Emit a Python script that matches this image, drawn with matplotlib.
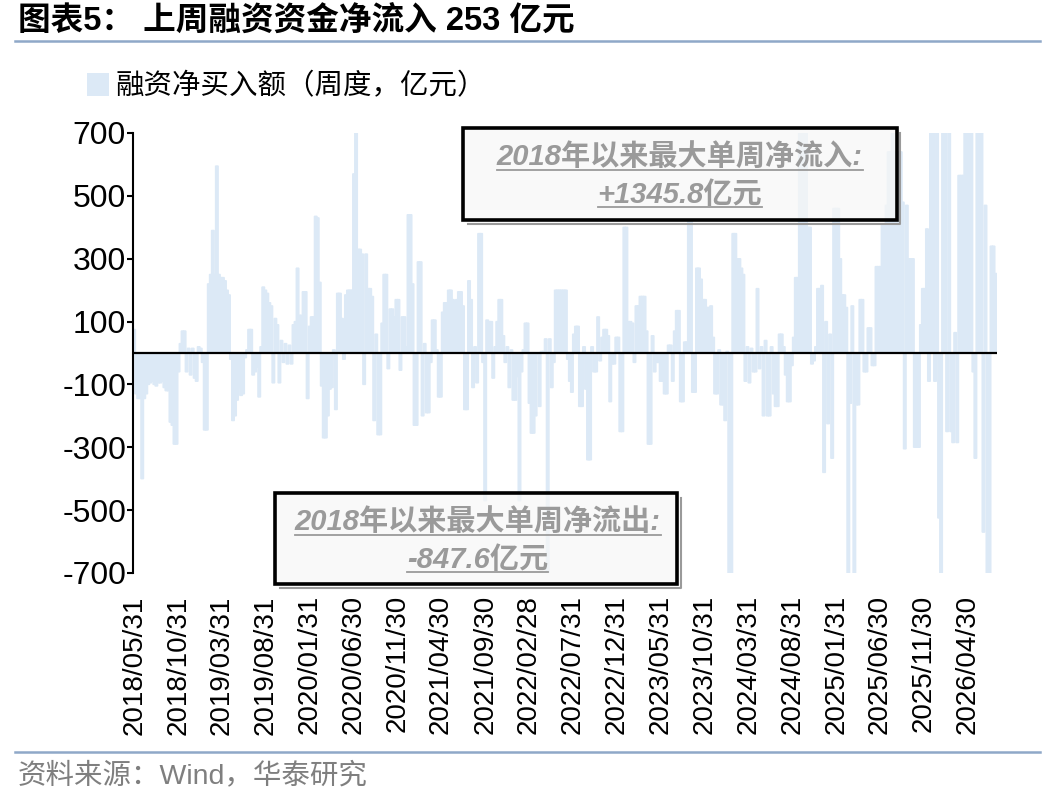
import matplotlib
matplotlib.use("Agg")
import matplotlib.pyplot as plt
import pandas as pd
from matplotlib.patches import Patch, Rectangle
from matplotlib.lines import Line2D

plt.rcParams['font.family'] = ['Liberation Sans', 'Noto Sans CJK SC']

# weekly net margin buying, 100m CNY
net_buy = [
    75, -130, -145, -145, -400, -145, -130, -100, -95, -90,
    -100, -105, -95, -95, -90, -110, -120, -120, -220, -230,
    -290, -290, -60, 30, 70, 70, -60, 15, -70, 15,
    -80, -90, 20, 15, -30, -245, -245, 220, 250, 390,
    250, 595, 250, 240, 240, 230, 200, 185, -20, -215,
    -200, -150, -110, -135, -130, -15, 10, 75, 75, -70,
    -60, -45, -140, 20, 210, 200, 190, 160, 150, -95,
    110, 90, -95, 40, -30, 30, -35, 25, -35, 90,
    100, 270, 120, 120, 195, 195, -145, 85, 115, 115,
    435, 430, 225, -105, -270, -270, -200, -115, -110, 10,
    -180, 190, 190, 110, -20, 185, 200, 200, 200, 570,
    720, 330, 330, 315, -100, 315, 205, 205, 180, -215,
    60, -260, -260, 95, 250, 250, -50, 140, 140, 115,
    170, 170, -55, 115, 115, 20, 440, 440, 220, -230,
    -230, 290, 290, -200, 30, -190, -190, -30, 105, 105,
    10, -140, -140, 130, 160, 160, 200, 200, 170, 165,
    170, 195, 195, 150, -180, -180, 230, 170, -110, 20,
    -95, 380, 380, -30, -470, 105, 100, 100, -80, 20,
    100, 170, 170, 55, -30, 20, -110, 10, -150, -150,
    -75, -470, -60, 10, 95, 95, -160, -255, -255, -200,
    -5, -170, 5, 5, 45, -710, 45, -110, -30, 200,
    200, 200, 200, 200, 200, -20, -90, -125, 60, 85,
    85, -170, -170, 20, -115, -340, -340, 20, -60, -60,
    115, -25, 50, 75, 75, 55, -155, -35, -35, 50,
    50, -250, -250, 400, 400, 100, 100, 95, -30, 150,
    150, 180, 180, 180, 70, -290, -290, 55, -60, -30,
    -30, -90, -90, -130, -130, 25, 25, -90, 70, 135,
    135, -155, -155, 35, 35, 420, 420, -125, -125, 270,
    270, 235, 170, 170, 145, 145, 150, 50, -130, -130,
    10, -165, -165, -215, 5, -847.6, -720, 380, 380, 300,
    300, 270, 250, -90, 20, -95, 15, -60, -60, 205,
    -50, 20, -200, 40, -200, -200, 20, -130, -170, -170,
    60, 60, 20, -70, -155, -155, -40, 50, 240, 240,
    720, 630, 1345.8, 720, 400, 400, -35, -25, 20, 205,
    205, 215, -380, 100, -225, 60, -335, 460, 460, 460,
    300, 185, 185, 145, -720, -160, 150, -720, -165, -165,
    170, 170, -60, -60, 80, 80, -40, -40, 275, 275,
    275, 410, 410, 470, 640, 640, 720, 640, 640, 640,
    640, 480, -305, 470, 300, 300, 300, -300, -300, -300,
    90, 205, 205, 395, -90, 720, 720, -90, 720, -525,
    -720, 720, 720, -250, 720, -250, -285, 65, -285, 565,
    565, 565, 720, 720, 720, 720, -60, -335, 720, 720,
    720, -570, 470, -720, -720, 340, 340, 253,
]

dates = pd.date_range('2018-05-31', periods=len(net_buy), freq='7D')

tick_labels = [
    '2018/05/31', '2018/10/31', '2019/03/31', '2019/08/31', '2020/01/31',
    '2020/06/30', '2020/11/30', '2021/04/30', '2021/09/30', '2022/02/28',
    '2022/07/31', '2022/12/31', '2023/05/31', '2023/10/31', '2024/03/31',
    '2024/08/31', '2025/01/31', '2025/06/30', '2025/11/30', '2026/04/30',
]
tick_dates = pd.to_datetime(tick_labels, format='%Y/%m/%d')

y_ticks = [-700, -500, -300, -100, 100, 300, 500, 700]

bar_color = '#DCE9F6'
rule_color = '#8FA8C8'
note_color = '#9A9A9A'

fig = plt.figure(figsize=(10.49, 7.95), dpi=100)
ax = fig.add_axes([133 / 1049, 1 - 573 / 795, 864 / 1049, 440 / 795])

ax.bar(dates, net_buy, width=9, color=bar_color, edgecolor=bar_color,
       linewidth=1.0, snap=False, zorder=2)
ax.axhline(0, color='black', lw=1.6, zorder=3)

ax.set_ylim(-700, 700)
ax.set_yticks(y_ticks)
ax.set_yticklabels([str(v) for v in y_ticks], fontsize=23)
ax.set_xlim(dates[0] - pd.Timedelta(days=4), dates[-1] + pd.Timedelta(days=5))
ax.set_xticks(tick_dates)
ax.set_xticklabels(tick_labels, rotation=90, fontsize=20, va='top')
ax.tick_params(axis='x', length=0, pad=16)
ax.tick_params(axis='y', length=4.5, width=1.5, pad=0.5, direction='out')
for side in ['top', 'right', 'bottom']:
    ax.spines[side].set_visible(False)
ax.spines['left'].set_linewidth(1.5)

# title, rules, source
fig.text(18 / 1049, 1 - 22 / 795, '图表5： 上周融资资金净流入 253 亿元',
         fontsize=23.5, fontweight='bold', va='center', ha='left')
fig.add_artist(Line2D([15 / 1049, 1040 / 1049], [1 - 41 / 795] * 2,
                      color=rule_color, lw=1.8))
fig.add_artist(Line2D([15 / 1049, 1040 / 1049], [1 - 752 / 795] * 2,
                      color=rule_color, lw=1.8))
fig.text(18 / 1049, 1 - 776 / 795, '资料来源：Wind，华泰研究',
         fontsize=20.5, color='#7F7F7F', va='center', ha='left')

fig.legend(handles=[Patch(facecolor=bar_color, edgecolor='none')],
           labels=['融资净买入额（周度，亿元）'], loc='upper left',
           bbox_to_anchor=(76 / 1049, 1 - 62 / 795), frameon=False,
           fontsize=20.5, handlelength=0.75, handleheight=0.85,
           handletextpad=0.25, borderaxespad=0)


def note_box(x0, y0, x1, y1, lines, xc, ys):
    box = Rectangle((x0, y0), x1 - x0, y1 - y0, transform=ax.transAxes,
                    facecolor=(0.97, 0.97, 0.97, 0.72), edgecolor='black',
                    lw=2.6, clip_on=False, zorder=5)
    ax.add_patch(box)
    # thin shadow along the right and bottom edges
    sx = [x0 + 0.006, x1 + 0.004, x1 + 0.004]
    sy = [y0 - 0.009, y0 - 0.009, y1 - 0.012]
    ax.add_line(Line2D(sx, sy, transform=ax.transAxes, color='#9A9A9A',
                       lw=1.5, clip_on=False, zorder=4))
    texts = []
    for line, yy in zip(lines, ys):
        t = ax.text(xc, yy, line, transform=ax.transAxes, ha='center',
                    va='center', fontsize=21, fontweight='bold',
                    fontstyle='italic', color=note_color, zorder=6)
        texts.append(t)
    return texts


notes = []
notes += note_box(0.382, 0.802, 0.884, 1.011,
                  ['2018年以来最大单周净流入:', '+1345.8亿元'],
                  0.633, [0.943, 0.859])
notes += note_box(0.164, -0.025, 0.630, 0.182,
                  ['2018年以来最大单周净流出:', '-847.6亿元'],
                  0.399, [0.114, 0.030])

# underline the note texts
fig.canvas.draw()
renderer = fig.canvas.get_renderer()
inv = fig.transFigure.inverted()
for t in notes:
    bb = t.get_window_extent(renderer)
    (fx0, fy0), (fx1, _) = inv.transform([(bb.x0, bb.y0 + 2), (bb.x1, bb.y0)])
    fig.add_artist(Line2D([fx0, fx1], [fy0, fy0], color=note_color,
                          lw=1.3, zorder=7))

fig.savefig('out.png', dpi=100)
